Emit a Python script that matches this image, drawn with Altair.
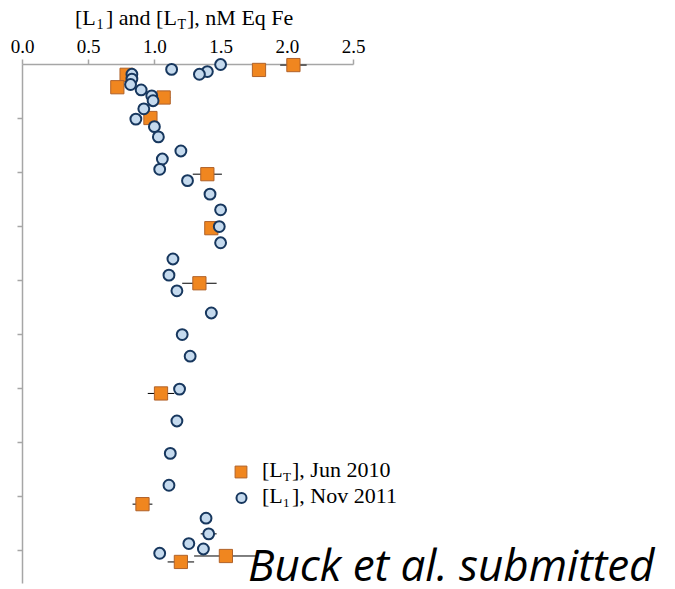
import altair as alt
import pandas as pd

# ---- data ----
lt_conc = [2.05, 1.79, 0.79, 0.72, 1.07, 0.97, 1.40, 1.43, 1.34, 1.05, 0.91, 1.54, 1.20]
lt_depth = [0.02, 0.11, 0.20, 0.43, 0.62, 1.00, 2.04, 3.04, 4.06, 6.10, 8.15, 9.11, 9.22]
lt_err = [0.10, 0.04, 0.05, 0.0, 0.05, 0.04, 0.11, 0.03, 0.13, 0.10, 0.075, 0.24, 0.10]

l1_conc = [1.50, 1.40, 1.13, 1.34, 0.83, 0.83, 0.82, 0.90, 0.98, 0.99, 0.92, 0.86,
           1.00, 1.03, 1.20, 1.06, 1.04, 1.25, 1.42, 1.50, 1.49, 1.50, 1.14, 1.11,
           1.17, 1.43, 1.21, 1.27, 1.19, 1.17, 1.12, 1.11, 1.39, 1.41, 1.26, 1.37, 1.04]
l1_depth = [0.01, 0.14, 0.10, 0.19, 0.19, 0.28, 0.38, 0.48, 0.59, 0.68, 0.83, 1.02,
            1.16, 1.35, 1.61, 1.76, 1.95, 2.16, 2.41, 2.70, 3.01, 3.31, 3.61, 3.91,
            4.20, 4.61, 5.01, 5.41, 6.02, 6.61, 7.21, 7.80, 8.41, 8.70, 8.88, 8.98, 9.06]
l1_err = [0, 0, 0, 0, 0, 0, 0, 0, 0, 0, 0, 0,
          0, 0, 0, 0, 0, 0, 0, 0, 0, 0, 0, 0,
          0, 0, 0, 0, 0, 0, 0, 0.03, 0, 0.06, 0, 0, 0]

x_ticks = [0.0, 0.5, 1.0, 1.5, 2.0, 2.5]
depth_ticks = [1, 2, 3, 4, 5, 6, 7, 8, 9]

lt = pd.DataFrame({"conc": lt_conc, "depth": lt_depth,
                   "lo": [c - e for c, e in zip(lt_conc, lt_err)],
                   "hi": [c + e for c, e in zip(lt_conc, lt_err)],
                   "err": lt_err})
l1 = pd.DataFrame({"conc": l1_conc, "depth": l1_depth,
                   "lo": [c - e for c, e in zip(l1_conc, l1_err)],
                   "hi": [c + e for c, e in zip(l1_conc, l1_err)],
                   "err": l1_err})

# ---- styling ----
ORANGE = "#f0861f"
ORANGE_EDGE = "#b0622a"
BLUE = "#c5daee"
BLUE_EDGE = "#17375e"
OX, OY = 22, 64  # plot origin in page pixels

xs = alt.Scale(domain=[0, 2.5], nice=False, zero=False)
ys = alt.Scale(domain=[0, 9.61], reverse=True, nice=False, zero=False)
xaxis = alt.Axis(orient="top", values=x_ticks, format=".1f", title="", grid=False,
                 tickSize=5, labelPadding=3, labelFlush=False)
yaxis = alt.Axis(values=depth_ticks, labels=False, title="", grid=False, tickSize=5)


def X(f):
    return alt.X(f, scale=xs, axis=xaxis)


def Y(f):
    return alt.Y(f, scale=ys, axis=yaxis)


lt_err_layer = alt.Chart(lt).transform_filter("datum.err > 0").mark_rule(
    color="black", strokeWidth=1).encode(x=X("lo:Q"), x2="hi:Q", y=Y("depth:Q"))
l1_err_layer = alt.Chart(l1).transform_filter("datum.err > 0").mark_rule(
    color="black", strokeWidth=1).encode(x=X("lo:Q"), x2="hi:Q", y=Y("depth:Q"))

lt_pts = alt.Chart(lt).mark_point(shape="square", filled=True, fill=ORANGE, stroke=ORANGE_EDGE,
                                  strokeWidth=1, size=175, opacity=1).encode(
    x=X("conc:Q"), y=Y("depth:Q"))
l1_pts = alt.Chart(l1).mark_point(shape="circle", filled=True, fill=BLUE, stroke=BLUE_EDGE,
                                  strokeWidth=2, size=118, opacity=1).encode(
    x=X("conc:Q"), y=Y("depth:Q"))


def txt(s, x, y, size, font="Liberation Serif", style="normal"):
    return alt.Chart(pd.DataFrame({"s": [s]})).mark_text(
        align="left", baseline="alphabetic", font=font, fontSize=size,
        fontStyle=style, color="black").encode(
        text="s:N", x=alt.value(x - OX), y=alt.value(y - OY))


def sym(shape, x, y, fill, stroke, sw, size):
    return alt.Chart(pd.DataFrame({"s": [shape]})).mark_point(
        shape=shape, filled=True, fill=fill, stroke=stroke, strokeWidth=sw,
        size=size, opacity=1).encode(x=alt.value(x - OX), y=alt.value(y - OY))


# axis title with subscripts
title_parts = [
    txt("[L", 75, 25, 22),
    txt("1", 96.5, 28.5, 14),
    txt("] and [L", 106, 25, 22),
    txt("T", 177.5, 28.5, 14),
    txt("], nM Eq Fe", 187, 25, 22),
]

# legend
legend_parts = [
    sym("square", 241, 472, ORANGE, ORANGE_EDGE, 1, 140),
    txt("[L", 262, 477, 22),
    txt("T", 283, 480.5, 13),
    txt("], Jun 2010", 292, 477, 22),
    sym("circle", 241.5, 498, BLUE, BLUE_EDGE, 2, 100),
    txt("[L", 262, 503, 22),
    txt("1", 283, 506.5, 13),
    txt("], Nov 2011", 292, 503, 22),
]

note = txt("Buck et al. submitted", 248, 581, 44, font="Open Sans", style="italic")

chart = alt.layer(
    lt_err_layer, l1_err_layer, lt_pts, l1_pts, *title_parts, *legend_parts, note
).properties(
    width=331, height=519,
    padding={"left": OX, "top": OY, "right": 675 - OX - 331, "bottom": 589 - OY - 519},
    autosize=alt.AutoSizeParams(type="none"),
    background="white",
).configure_view(stroke=None).configure_axis(
    domainColor="#a6a6a6", tickColor="#a6a6a6", domainWidth=1.5, tickWidth=1.5,
    labelFont="Liberation Serif", labelFontSize=19, labelColor="black",
)

chart.save("out.html", embed_options={"renderer": "svg", "actions": False})
